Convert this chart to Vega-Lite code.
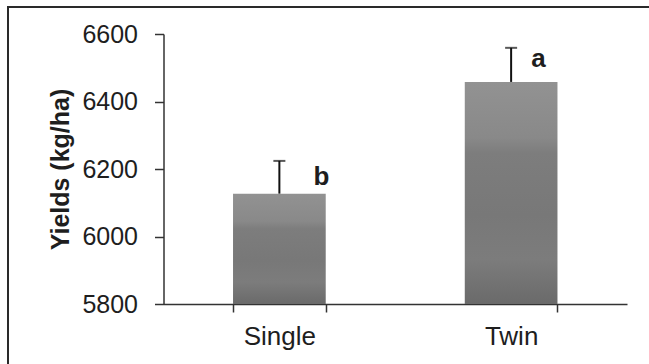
{
  "$schema": "https://vega.github.io/schema/vega-lite/v6.json",
  "autosize": "none",
  "padding": {"left": 8, "top": 7, "right": -7, "bottom": -7},
  "width": 648,
  "height": 364,
  "background": "white",
  "config": {
    "view": {"stroke": "#2a2a2a", "strokeWidth": 2},
    "font": "Liberation Sans",
    "axis": {"grid": false}
  },
  "data": {
    "values": [
      {"system": "Single", "yield": 6127, "upper": 6224, "letter": "b", "label_y": 6153},
      {"system": "Twin", "yield": 6458, "upper": 6559, "letter": "a", "label_y": 6503}
    ]
  },
  "encoding": {
    "x": {
      "field": "system",
      "type": "nominal",
      "sort": null,
      "scale": {"range": [155.5, 619], "paddingInner": 0.6, "paddingOuter": 0.3},
      "axis": {
        "title": null,
        "orient": "bottom",
        "offset": -67,
        "labelAngle": 0,
        "labelFontSize": 26,
        "labelColor": "#1e1e1e",
        "labelPadding": 11,
        "tickBand": "extent",
        "tickSize": 8,
        "tickWidth": 1.5,
        "tickColor": "#333",
        "domainColor": "#333",
        "domainWidth": 1.5
      }
    }
  },
  "layer": [
    {
      "mark": {
        "type": "bar",
        "color": {
          "gradient": "linear",
          "x1": 0, "y1": 0, "x2": 0, "y2": 1,
          "stops": [
            {"offset": 0, "color": "#929292"},
            {"offset": 0.25, "color": "#898989"},
            {"offset": 0.32, "color": "#7d7d7d"},
            {"offset": 0.6, "color": "#787878"},
            {"offset": 0.8, "color": "#7c7c7c"},
            {"offset": 1, "color": "#6a6a6a"}
          ]
        }
      },
      "encoding": {
        "y": {
          "field": "yield",
          "type": "quantitative",
          "scale": {"domain": [5800, 6600], "range": [297, 27], "nice": false, "zero": false},
          "axis": {
            "title": "Yields (kg/ha)",
            "titleFontSize": 25,
            "titleFontWeight": "bold",
            "titleColor": "#1e1e1e",
            "titlePadding": 8,
            "values": [5800, 6000, 6200, 6400, 6600],
            "format": "d",
            "offset": -155.5,
            "labelFontSize": 25,
            "labelColor": "#1e1e1e",
            "labelPadding": 17,
            "tickSize": 9,
            "tickWidth": 1.5,
            "tickColor": "#333",
            "domainColor": "#333",
            "domainWidth": 1.5
          }
        },
        "y2": {"datum": 5800}
      }
    },
    {
      "mark": {"type": "rule", "color": "#111", "strokeWidth": 2},
      "encoding": {
        "y": {"field": "yield", "type": "quantitative"},
        "y2": {"field": "upper"}
      }
    },
    {
      "mark": {"type": "tick", "color": "#111", "size": 12, "thickness": 2},
      "encoding": {
        "y": {"field": "upper", "type": "quantitative"}
      }
    },
    {
      "transform": [{"filter": "datum.system === 'Single'"}],
      "mark": {"type": "text", "align": "left", "baseline": "alphabetic", "dx": 34, "fontSize": 26, "fontWeight": "bold", "color": "#1e1e1e"},
      "encoding": {
        "y": {"field": "label_y", "type": "quantitative"},
        "text": {"field": "letter"}
      }
    },
    {
      "transform": [{"filter": "datum.system === 'Twin'"}],
      "mark": {"type": "text", "align": "left", "baseline": "alphabetic", "dx": 20, "fontSize": 26, "fontWeight": "bold", "color": "#1e1e1e"},
      "encoding": {
        "y": {"field": "label_y", "type": "quantitative"},
        "text": {"field": "letter"}
      }
    }
  ]
}
